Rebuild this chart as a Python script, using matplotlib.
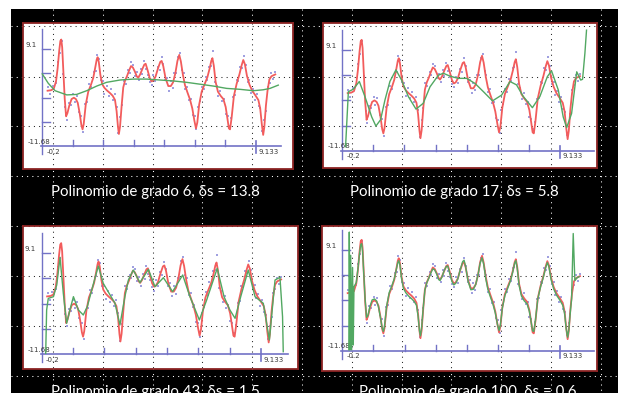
import matplotlib
matplotlib.use('Agg')
import matplotlib.pyplot as plt
import numpy as np
from matplotlib.patches import Rectangle
from matplotlib.lines import Line2D
from matplotlib.transforms import Affine2D
from matplotlib import font_manager

W, H = 618, 393

# axis range printed on every chart
x_lo, x_hi = -0.2, 9.133
y_lo, y_hi = -11.68, 9.1

# smoothed data (red), same in the four charts
red_x = [0.03, 0.18, 0.30, 0.40, 0.47, 0.54, 0.59, 0.63, 0.67, 0.72,
         0.78, 0.84, 0.90, 0.98, 1.08, 1.18, 1.27, 1.35, 1.44, 1.51,
         1.56, 1.61, 1.70, 1.81, 1.93, 2.03, 2.12, 2.18, 2.22, 2.27,
         2.34, 2.42, 2.52, 2.64, 2.76, 2.88, 2.98, 3.05, 3.11, 3.15,
         3.20, 3.27, 3.34, 3.42, 3.51, 3.60, 3.68, 3.76, 3.85, 3.93,
         3.99, 4.07, 4.17, 4.26, 4.32, 4.40, 4.50, 4.58, 4.66, 4.75,
         4.86, 4.96, 5.02, 5.09, 5.19, 5.31, 5.42, 5.52, 5.62, 5.71,
         5.79, 5.86, 5.95, 6.04, 6.15, 6.26, 6.36, 6.45, 6.52, 6.58,
         6.66, 6.77, 6.89, 7.02, 7.12, 7.19, 7.24, 7.30, 7.38, 7.48,
         7.60, 7.72, 7.82, 7.90, 7.96, 8.01, 8.08, 8.18, 8.30, 8.42,
         8.52, 8.59, 8.66, 8.75, 8.86, 8.98, 9.12, 9.25, 9.33, 9.40,
         9.46, 9.51, 9.58, 9.65, 9.73, 9.82, 9.90, 9.99]
red_y = [0.2, 0.3, 0.6, 2.2, 5.0, 8.8, 10.9, 11.2, 9.5, 4.5,
         -1.5, -5.3, -4.6, -3.0, -1.6, -1.3, -1.6, -2.4, -4.8, -7.2,
         -8.1, -7.0, -2.8, 0.0, 1.5, 3.0, 5.3, 6.9, 7.4, 6.4,
         3.6, 1.6, 0.8, 0.2, -0.3, -0.9, -1.8, -4.2, -7.6, -9.1,
         -7.5, -3.0, 0.9, 2.4, 3.4, 4.6, 5.5, 5.2, 4.3, 3.3,
         3.0, 3.6, 4.8, 5.8, 6.0, 4.7, 2.9, 2.2, 2.4, 3.2,
         5.0, 6.4, 6.6, 5.5, 2.9, 1.2, 1.2, 2.0, 4.0, 6.6,
         7.9, 6.5, 3.6, 1.4, -0.2, -1.7, -3.6, -6.2, -7.9, -6.6,
         -2.8, 0.0, 1.5, 3.1, 5.0, 6.6, 7.2, 5.6, 2.1, 0.0,
         -0.9, -1.6, -3.3, -5.9, -7.9, -8.1, -5.6, -0.9, 1.7, 3.7,
         5.7, 6.8, 5.9, 3.4, 1.5, 0.2, -0.8, -1.8, -3.6, -7.0,
         -9.3, -7.6, -3.0, 0.2, 2.6, 3.3, 3.5, 3.7]

# raw samples (blue dots)
dots_x = [0.05, 0.15, 0.25, 0.40, 0.48, 0.56, 0.64, 0.72, 0.80, 0.88,
          0.96, 1.05, 1.14, 1.22, 1.30, 1.40, 1.50, 1.58, 1.68, 1.76,
          1.86, 1.95, 2.05, 2.13, 2.20, 2.27, 2.35, 2.44, 2.52, 2.62,
          2.70, 2.80, 2.88, 2.97, 3.05, 3.12, 3.20, 3.28, 3.36, 3.45,
          3.54, 3.62, 3.70, 3.78, 3.86, 3.94, 4.02, 4.10, 4.18, 4.26,
          4.34, 4.42, 4.50, 4.58, 4.66, 4.75, 4.84, 4.93, 5.02, 5.10,
          5.18, 5.26, 5.34, 5.42, 5.50, 5.58, 5.66, 5.74, 5.82, 5.90,
          5.98, 6.06, 6.14, 6.22, 6.30, 6.38, 6.46, 6.54, 6.62, 6.70,
          6.78, 6.86, 6.94, 7.02, 7.10, 7.18, 7.26, 7.34, 7.42, 7.50,
          7.58, 7.66, 7.74, 7.82, 7.90, 7.98, 8.06, 8.14, 8.22, 8.30,
          8.38, 8.46, 8.54, 8.62, 8.70, 8.78, 8.86, 8.94, 9.02, 9.10,
          9.18, 9.26, 9.34, 9.42, 9.50, 9.58, 9.66, 9.74, 9.82, 9.90,
          9.97]
dots_y = [0.9, -0.6, 1.2, 1.8, 6.3, 8.2, 10.9, 3.8, -3.4, -6.0,
          -2.4, -2.8, -0.6, -2.2, -0.9, -4.3, -5.2, -8.6, -2.6, -2.2,
          1.6, 1.0, 4.3, 4.5, 7.8, 7.0, 2.4, 2.3, -0.4, 1.3,
          -0.9, 0.5, -1.7, -0.5, -3.2, -8.9, -5.4, -2.9, 2.3, 1.7,
          4.6, 3.9, 6.3, 5.8, 3.4, 4.2, 2.4, 4.9, 3.8, 6.5,
          4.8, 3.6, 2.1, 1.4, 3.5, 2.3, 5.2, 4.6, 7.4, 5.9,
          2.4, 3.0, 0.2, 2.3, 0.8, 4.0, 3.9, 7.5, 8.3, 4.7,
          4.0, 0.5, 1.0, -1.9, -1.6, -5.0, -5.3, -8.1, -3.2, -2.0,
          1.1, 0.5, 3.2, 2.6, 5.4, 5.6, 8.7, 2.0, 1.3, -1.0,
          0.2, -2.1, -1.6, -4.8, -5.2, -7.3, -5.7, -1.1, -0.8, 2.4,
          2.2, 5.4, 5.0, 7.6, 5.7, 2.0, 2.5, -0.2, 0.6, -1.7,
          -0.5, -3.0, -3.6, -8.5, -6.0, -4.1, 0.9, 1.8, 4.0, 2.8,
          4.2]

# polynomial fits (green)
g6_x = [-0.20, 0.06, 0.36, 0.87, 1.30, 1.74, 2.18, 2.61, 3.20, 3.78, 4.36,
        4.95, 5.53, 6.11, 6.70, 7.28, 7.86, 8.44, 9.03, 9.46, 9.76, 10.12]
g6_y = [3.8, 1.8, 0.2, -0.7, -0.6, 0.2, 1.2, 2.0, 2.5, 2.7, 2.7,
        2.5, 2.3, 2.0, 1.6, 1.2, 0.7, 0.5, 0.2, 0.4, 0.7, 1.4]

g17_x = [-0.06, 0.02, 0.06, 0.27, 0.53, 0.77, 1.06, 1.24, 1.44, 1.63,
         1.84, 2.10, 2.34, 2.63, 2.96, 3.27, 3.56, 3.92, 4.13, 4.42,
         4.77, 5.13, 5.49, 5.85, 6.24, 6.63, 6.99, 7.27, 7.56, 7.95,
         8.27, 8.59, 8.77, 9.06, 9.27, 9.42, 9.63, 9.85, 10.02, 10.10,
         10.20, 10.27]
g17_y = [-10.85, -3.3, 0.5, 1.0, 2.6, -0.5, -4.7, -6.6, -5.3, -1.2,
         2.6, 5.0, 2.9, -0.5, -3.1, -1.9, 1.5, 3.9, 4.3, 3.7,
         3.25, 3.25, 2.2, 0.5, -1.4, -0.2, 2.6, 1.9, -0.5, -2.8,
         -0.5, 3.6, 4.8, 0.85, -4.7, -6.9, -4.0, 4.6, 2.9, 3.05,
         8.4, 13.2]

g43_x = [-0.03, 0.01, 0.08, 0.30, 0.44, 0.58, 0.72, 0.86, 1.00, 1.15,
         1.36, 1.57, 1.74, 1.93, 2.21, 2.42, 2.71, 2.92, 3.13, 3.34,
         3.49, 3.70, 3.98, 4.34, 4.62, 4.98, 5.37, 5.80, 6.11, 6.51,
         6.82, 7.27, 7.56, 7.81, 8.03, 8.27, 8.59, 8.88, 9.23, 9.49,
         9.73, 9.94, 10.05, 10.08]
g43_y = [-11.54, -2.6, -0.2, 0.15, 2.56, 8.27, 0.84, -5.35, -2.6, 0.15,
         -2.6, -3.63, -1.91, 1.53, 6.48, 2.9, 0.5, -1.22, -5.69, 0.15,
         3.59, 5.65, 3.04, 5.79, 2.22, 4.07, 1.18, 4.62, 0.15, -4.66,
         -0.54, 6.0, 0.15, -2.6, -4.32, 0.15, 5.65, 0.15, -1.22, -8.79,
         3.59, 4.14, -3.97, -11.2]

g100_x = [0.08, 0.10, 0.13, 0.16, 0.20, 0.24, 0.27, 0.30,
          0.40, 0.47, 0.54, 0.59, 0.63, 0.67, 0.72, 0.78, 0.84, 0.90,
          0.98, 1.08, 1.18, 1.27, 1.35, 1.44, 1.51, 1.56, 1.61, 1.70,
          1.81, 1.93, 2.03, 2.12, 2.18, 2.22, 2.27, 2.34, 2.42, 2.52,
          2.64, 2.76, 2.88, 2.98, 3.05, 3.11, 3.15, 3.20, 3.27, 3.34,
          3.42, 3.51, 3.60, 3.68, 3.76, 3.85, 3.93, 3.99, 4.07, 4.17,
          4.26, 4.32, 4.40, 4.50, 4.58, 4.66, 4.75, 4.86, 4.96, 5.02,
          5.09, 5.19, 5.31, 5.42, 5.52, 5.62, 5.71, 5.79, 5.86, 5.95,
          6.04, 6.15, 6.26, 6.36, 6.45, 6.52, 6.58, 6.66, 6.77, 6.89,
          7.02, 7.12, 7.19, 7.24, 7.30, 7.38, 7.48, 7.60, 7.72, 7.82,
          7.90, 7.96, 8.01, 8.08, 8.18, 8.30, 8.42, 8.52, 8.59, 8.66,
          8.75, 8.86, 8.98, 9.12, 9.25, 9.33, 9.40, 9.46, 9.51, 9.58,
          9.63, 9.70, 9.77, 9.85, 9.95]
g100_y = [-11.5, 12.8, -11.5, 8.0, -11.5, 5.5, -10.5, 1.5,
          2.4, 5.2, 8.4, 10.2, 10.4, 8.8, 4.2, -1.2, -4.8, -4.4,
          -2.6, -1.2, -1.0, -1.4, -2.6, -5.0, -7.0, -7.7, -6.6, -2.5,
          0.3, 1.8, 3.2, 5.2, 6.5, 6.9, 6.0, 3.2, 1.2, 0.3,
          -0.4, -0.9, -1.5, -2.3, -4.6, -7.6, -8.6, -7.0, -2.8, 0.8,
          2.3, 3.3, 4.4, 5.2, 5.0, 4.1, 3.0, 2.8, 3.5, 4.9,
          5.7, 5.8, 4.4, 2.6, 1.9, 2.2, 3.1, 5.1, 6.7, 7.0,
          5.6, 2.7, 0.9, 1.0, 2.0, 4.0, 6.4, 7.5, 6.2, 3.2,
          1.0, -0.6, -2.1, -3.9, -6.2, -7.5, -6.3, -2.9, -0.3, 1.2,
          2.9, 4.8, 6.4, 6.9, 5.3, 1.8, -0.4, -1.4, -2.0, -3.6,
          -5.9, -7.6, -7.7, -5.4, -1.0, 1.5, 3.5, 5.5, 6.5, 5.6,
          3.0, 1.1, -0.2, -1.2, -2.3, -4.0, -7.2, -8.9, -7.4, -3.5,
          -1.0, 12.5, 2.8, 3.3, 3.6]

degrees = [6, 17, 43, 100]
errors = ["13.8", "5.8", "1.5", "0.6"]
fits = [(g6_x, g6_y), (g17_x, g17_y), (g43_x, g43_y), (g100_x, g100_y)]

# pixel layout of each chart: white box (L, T, R, B), px of x=-0.2 / 9.133,
# px of y=9.1 / -11.68, end of x axis (data units)
panels = [
    dict(box=(23.3, 22.7, 293.3, 169.3), px=(42.3, 255.7), py=(49.3, 146.0), xend=10.25),
    dict(box=(322.7, 22.7, 597.0, 168.3), px=(342.3, 560.0), py=(50.0, 150.7), xend=10.6),
    dict(box=(23.3, 226.0, 298.3, 369.0), px=(41.7, 261.0), py=(253.3, 354.0), xend=10.3),
    dict(box=(322.3, 226.0, 597.3, 370.7), px=(342.3, 560.0), py=(250.0, 350.7), xend=10.6),
]
captions_xy = [(155, 196), (454, 196), (155, 396), (468, 396)]

guide_x = [53, 102.8, 152.6, 202.4, 252.2, 302, 351.8, 401.6, 451.4, 501.2, 551, 600.8]
guide_y = [25.7, 76.5, 126, 175.5, 225.7, 276, 326, 375.5]

# narrow sans for the captions if there is one
names = {f.name for f in font_manager.fontManager.ttflist}
cap_fonts = [n for n in ['Liberation Sans Narrow', 'Lato'] if n in names] + ['DejaVu Sans']
cap_size = 13 if cap_fonts[0] == 'Liberation Sans Narrow' else 10.8

fig = plt.figure(figsize=(W / 100, H / 100), dpi=100)
fig.patch.set_facecolor('white')
pix = Affine2D().scale(1 / W, -1 / H).translate(0, 1) + fig.transFigure

# black slide background
fig.patches.append(Rectangle((11, 9), W - 11, H - 9, transform=pix,
                             facecolor='black', edgecolor='none', zorder=-3))
dot_style = (0, (1, 4))
for gx in guide_x:
    fig.lines.append(Line2D([gx, gx], [9, H], transform=pix, color='white',
                            lw=0.75, linestyle=dot_style, zorder=-2))
for gy in guide_y:
    fig.lines.append(Line2D([11, W], [gy, gy], transform=pix, color='white',
                            lw=0.75, linestyle=dot_style, zorder=-2))

axis_c = '#7272c6'
red_c = '#f25c5c'
green_c = '#52a862'
dot_c = '#a0a0e0'
label_c = '#3a3a3a'

for i, p in enumerate(panels):
    L, T, R, B = p['box']
    ax = fig.add_axes([L / W, 1 - B / H, (R - L) / W, (B - T) / H])
    ax.set_facecolor('white')
    b = (p['px'][1] - p['px'][0]) / (x_hi - x_lo)
    c = (p['py'][1] - p['py'][0]) / (y_hi - y_lo)
    ax.set_xlim(x_lo + (L - p['px'][0]) / b, x_lo + (R - p['px'][0]) / b)
    ax.set_ylim(y_hi - (B - p['py'][0]) / c, y_hi - (T - p['py'][0]) / c)
    ax.set_xticks([])
    ax.set_yticks([])
    for s in ax.spines.values():
        s.set_color('#8e2424')
        s.set_linewidth(1.3)

    # slide guides show through as dark dots
    for gx in guide_x:
        ax.plot([gx, gx], [T, B], transform=pix, color='#222222', lw=0.75,
                linestyle=dot_style, zorder=0.5)
    for gy in guide_y:
        ax.plot([L, R], [gy, gy], transform=pix, color='#222222', lw=0.75,
                linestyle=dot_style, zorder=0.5)

    # axes drawn by the plotting program
    ax.plot([x_lo, x_lo], [y_lo - 8 / c, y_hi + 20 / c], color=axis_c, lw=1.0, zorder=1)
    ax.plot([x_lo - 1 / b, p['xend']], [y_lo, y_lo], color=axis_c, lw=1.2, zorder=1)
    for v in np.linspace(y_lo, y_hi, 5)[1:]:
        ax.plot([x_lo, x_lo + 8 / b], [v, v], color=axis_c, lw=1.0, zorder=1)
    for v in np.linspace(x_lo, x_hi, 8)[1:-1]:
        ax.plot([v, v], [y_lo, y_lo + 6 / c], color=axis_c, lw=1.0, zorder=1)
    ax.plot([x_hi, x_hi], [y_lo - 7 / c, y_lo + 5 / c], color=axis_c, lw=1.2, zorder=1)

    ax.annotate('9.1', (x_lo, y_hi), xytext=(-4, 1), textcoords='offset points',
                ha='right', va='bottom', fontsize=5, color=label_c)
    ax.annotate('-11.68', (x_lo, y_lo), xytext=(6, 1), textcoords='offset points',
                ha='right', va='bottom', fontsize=5, color=label_c)
    ax.annotate('-0.2', (x_lo, y_lo), xytext=(3, -2), textcoords='offset points',
                ha='left', va='top', fontsize=5, color=label_c)
    ax.annotate('9.133', (x_hi, y_lo), xytext=(2, -2), textcoords='offset points',
                ha='left', va='top', fontsize=5, color=label_c)

    ax.scatter(dots_x, dots_y, s=1.0, marker='s', color=dot_c, linewidths=0, zorder=2)
    ax.plot(red_x, red_y, color=red_c, lw=1.3, zorder=3, solid_joinstyle='round')
    fx, fy = fits[i]
    ax.plot(fx, fy, color=green_c, lw=1.0, zorder=4, solid_joinstyle='round')

    cx, cy = captions_xy[i]
    fig.text(cx / W, 1 - cy / H, f'Polinomio de grado {degrees[i]}, δs = {errors[i]}',
             ha='center', va='baseline', color='white', fontsize=cap_size,
             family=cap_fonts)

fig.savefig('out.png', dpi=100, facecolor='white')
